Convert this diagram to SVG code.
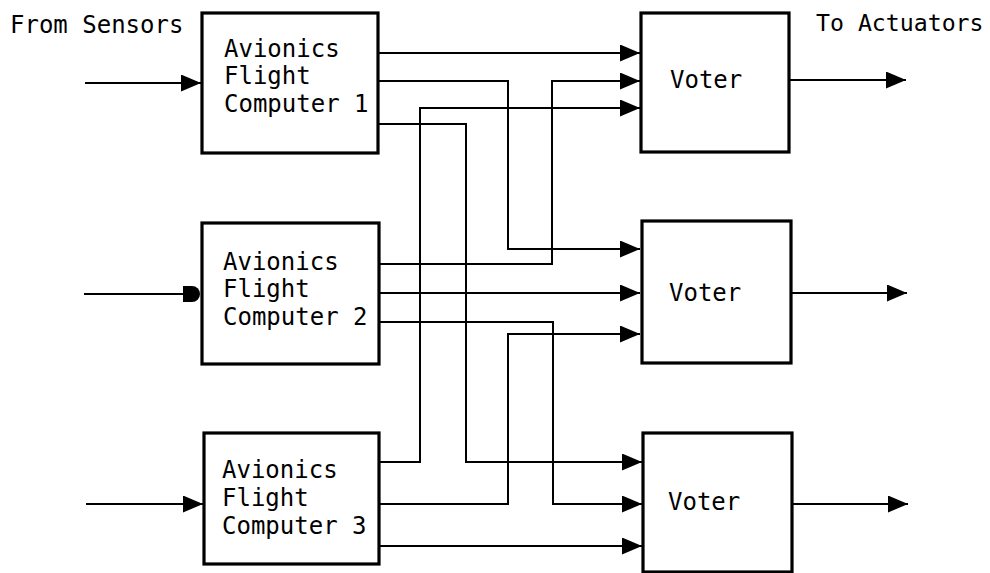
<svg xmlns="http://www.w3.org/2000/svg" width="990" height="573" viewBox="0 0 990 573">
<defs>
<style>
.box{fill:#fff;stroke:#000;stroke-width:3.2}
.ln{fill:none;stroke:#000;stroke-width:2}
.t{font-family:"DejaVu Sans Mono","Liberation Mono",monospace;font-size:24px;fill:#000}
</style>
<marker id="ah" markerUnits="userSpaceOnUse" markerWidth="21" markerHeight="18" refX="20" refY="8.5" orient="auto" viewBox="0 0 21 18">
<path d="M0,0 L20,8.5 L0,17 Z" fill="#000"/>
</marker>
</defs>
<rect width="990" height="573" fill="#fff"/>
<text class="t" x="10" y="33">From Sensors</text>
<text class="t" x="816" y="31" style="font-size:23.2px">To Actuators</text>

<g id="connectors" class="ln">
<!-- sensor inputs -->
<path d="M85,83 H201" marker-end="url(#ah)"/>
<path d="M84,294 H185"/>
<path d="M183,286 H192 A8,8 0 0 1 192,302 H183 Z" fill="#000" stroke="none"/>
<path d="M86,504 H203" marker-end="url(#ah)"/>
<!-- FC1 outputs -->
<path d="M378,53 H640" marker-end="url(#ah)"/>
<path d="M378,81 H508 V249 H640" marker-end="url(#ah)"/>
<path d="M378,124 H466 V462 H642" marker-end="url(#ah)"/>
<!-- FC2 outputs -->
<path d="M379,264 H552 V81 H640" marker-end="url(#ah)"/>
<path d="M379,293 H640" marker-end="url(#ah)"/>
<path d="M379,322 H553 V504 H642" marker-end="url(#ah)"/>
<!-- FC3 outputs -->
<path d="M379,462 H420 V108 H640" marker-end="url(#ah)"/>
<path d="M379,504 H508 V334 H640" marker-end="url(#ah)"/>
<path d="M379,546 H642" marker-end="url(#ah)"/>
<!-- voter outputs -->
<path d="M790,80 H906" marker-end="url(#ah)"/>
<path d="M791,293 H907" marker-end="url(#ah)"/>
<path d="M792,504 H908" marker-end="url(#ah)"/>
</g>

<g id="fc1">
<rect class="box" x="202" y="13" width="176" height="140"/>
<text class="t" x="224" y="57">Avionics</text>
<text class="t" x="224" y="84">Flight</text>
<text class="t" x="224" y="112">Computer 1</text>
</g>
<g id="fc2">
<rect class="box" x="202" y="223" width="177" height="141"/>
<text class="t" x="223" y="270">Avionics</text>
<text class="t" x="223" y="297">Flight</text>
<text class="t" x="223" y="325">Computer 2</text>
</g>
<g id="fc3">
<rect class="box" x="204" y="433" width="175" height="131"/>
<text class="t" x="222" y="478">Avionics</text>
<text class="t" x="222" y="506">Flight</text>
<text class="t" x="222" y="534">Computer 3</text>
</g>
<g id="voter1">
<rect class="box" x="641" y="13" width="148" height="139"/>
<text class="t" x="670" y="88">Voter</text>
</g>
<g id="voter2">
<rect class="box" x="642" y="221" width="149" height="142"/>
<text class="t" x="669" y="301">Voter</text>
</g>
<g id="voter3">
<rect class="box" x="643" y="433" width="149" height="139"/>
<text class="t" x="668" y="510">Voter</text>
</g>
</svg>
